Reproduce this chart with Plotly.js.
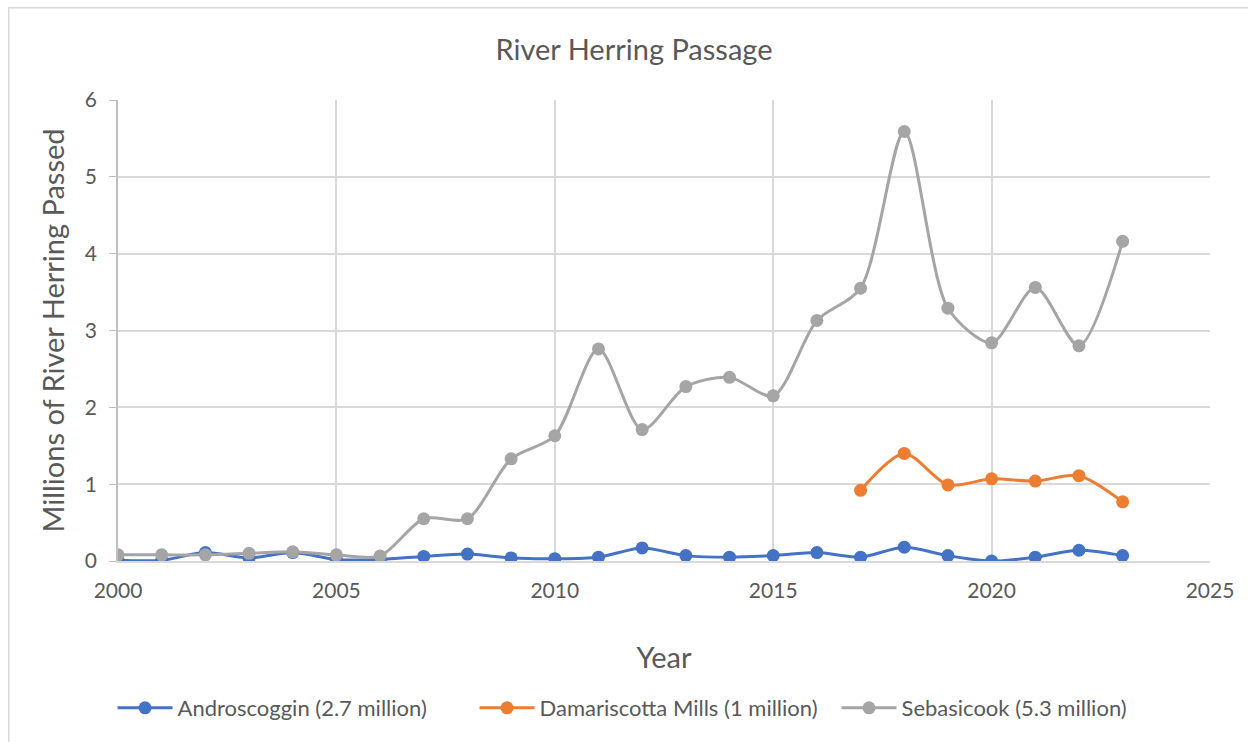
<!DOCTYPE html>
<html>
<head>
<meta charset="utf-8">
<script src="https://cdn.plot.ly/plotly-3.0.1.min.js"></script>
<style>html,body{margin:0;padding:0;background:#fff;}#chart{width:1248px;height:742px;}</style>
</head>
<body>
<div id="chart"></div>
<script>
const years = [2000,2001,2002,2003,2004,2005,2006,2007,2008,2009,2010,2011,2012,2013,2014,2015,2016,2017,2018,2019,2020,2021,2022,2023];
const androscoggin = [0.01,0.01,0.11,0.04,0.11,0.02,0.02,0.06,0.09,0.04,0.03,0.05,0.17,0.07,0.05,0.07,0.11,0.05,0.18,0.07,0.0,0.05,0.14,0.07];
const damYears = [2017,2018,2019,2020,2021,2022,2023];
const damariscotta = [0.92,1.40,0.99,1.07,1.04,1.11,0.77];
const sebasicook = [0.08,0.08,0.08,0.10,0.12,0.08,0.065,0.55,0.55,1.33,1.63,2.76,1.71,2.27,2.39,2.15,3.13,3.55,5.59,3.29,2.84,3.56,2.80,4.16];
const names = ['Androscoggin (2.7 million)','Damariscotta Mills (1 million)','Sebasicook (5.3 million)'];
const colors = ['#4472c4','#ed7d31','#a5a5a5'];

function tr(x,y,i){
  return {x:x,y:y,name:names[i],type:'scatter',mode:'lines+markers',
    line:{color:colors[i],width:3,shape:'spline',smoothing:0.8},
    marker:{color:colors[i],size:13}};
}
const data = [tr(years,androscoggin,0),tr(damYears,damariscotta,1),tr(years,sebasicook,2)];
const font = 'Lato, "Open Sans", sans-serif';
const layout = {
  width:1248,height:742,
  paper_bgcolor:'#fff',plot_bgcolor:'#fff',
  margin:{l:118,r:38,t:100,b:181},
  font:{family:font,color:'#595959',size:21},
  title:{text:'River Herring Passage',font:{size:29,color:'#595959'},x:0.508,xanchor:'center',y:0.933,yanchor:'middle'},
  xaxis:{range:[2000,2025],dtick:5,tick0:2000,showgrid:true,gridcolor:'#d9d9d9',gridwidth:1.5,
    showline:true,linecolor:'#d9d9d9',linewidth:1.5,zeroline:false,ticks:'',ticklen:0,ticklabelstandoff:10,
    tickfont:{size:21,color:'#595959'},
    title:{text:'Year',font:{size:29,color:'#595959'},standoff:47}},
  yaxis:{range:[0,6],dtick:1,showgrid:true,gridcolor:'#d9d9d9',gridwidth:1.5,
    showline:true,linecolor:'#bfbfbf',linewidth:1.5,zeroline:false,ticks:'outside',ticklen:7,tickcolor:'#bfbfbf',ticklabelstandoff:8,
    tickfont:{size:21,color:'#595959'},
    title:{text:'Millions of River Herring Passed',font:{size:29,color:'#595959'},standoff:12}},
  showlegend:true,
  legend:{orientation:'h',x:-0.005,xanchor:'left',y:-0.319,yanchor:'middle',font:{size:22,color:'#595959'},itemwidth:55,tracegroupgap:0,entrywidth:292},
  shapes:[{type:'rect',xref:'paper',yref:'paper',x0:-0.1,x1:1.2,y0:-0.5,y1:1.2,line:{color:'#d9d9d9',width:1.5},fillcolor:'rgba(0,0,0,0)',layer:'below'}]
};
Plotly.newPlot('chart',data,layout,{displayModeBar:false});
</script>
</body>
</html>
